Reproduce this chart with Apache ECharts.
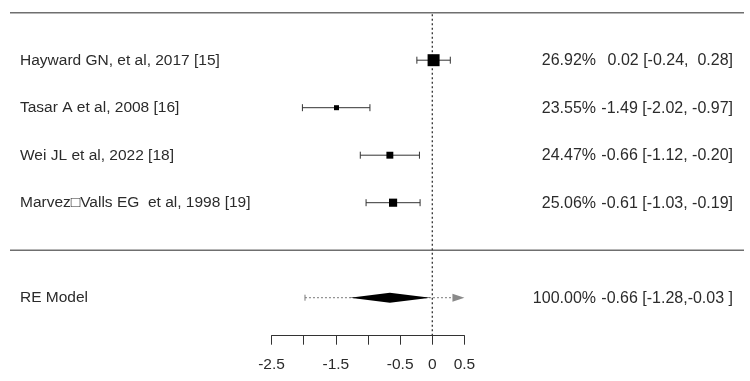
<!DOCTYPE html>
<html><head><meta charset="utf-8">
<script src="https://cdn.jsdelivr.net/npm/echarts@6/dist/echarts.min.js"></script>
<style>html,body{margin:0;padding:0;background:#fff}#c{width:750px;height:381px}</style>
</head><body><div id="c"></div>
<script>
// ---- data ----
const studyLabels = ['Hayward GN, et al, 2017 [15]', 'Tasar A et al, 2008 [16]', 'Wei JL et al, 2022 [18]', 'Marvez\u25A1Valls EG  et al, 1998 [19]'];
const estimates = [0.02, -1.49, -0.66, -0.61];
const ciLower = [-0.24, -2.02, -1.12, -1.03];
const ciUpper = [0.28, -0.97, -0.20, -0.19];
const weights = [26.92, 23.55, 24.47, 25.06];
const rowPositions = [4, 3, 2, 1];
const estimateTexts = ['0.02 [-0.24,  0.28]', '-1.49 [-2.02, -0.97]', '-0.66 [-1.12, -0.20]', '-0.61 [-1.03, -0.19]'];

const modelLabel = 'RE Model';
const modelRow = -1;
const modelEstimate = -0.66;
const modelLower = -1.28;
const modelUpper = -0.03;
const predLower = -1.98;
const predUpper = 0.66;
const modelWeight = 100.00;
const modelText = '-0.66 [-1.28,-0.03 ]';

const ruleRows = [5, 0];
const refValue = 0;
const tickValues = [-2.5, -2, -1.5, -1, -0.5, 0, 0.5];
const tickLabels = ['-2.5', '', '-1.5', '', '-0.5', '0', '0.5'];

// ---- layout / style ----
const FONT = 'Liberation Sans, Arial, sans-serif';
const TXT = '#2b2b2b';
const LABEL_X = 20, PCT_RIGHT = 596, EST_RIGHT = 733, RULE_L = 10, RULE_R = 744;
const X_MIN = -2.5, X_MAX = 0.5, Y_MIN = -1.8, Y_MAX = 5;
const wMin = Math.min(...weights), wMax = Math.max(...weights);

const chart = echarts.init(document.getElementById('c'), null, {renderer: 'canvas'});

const studyData = studyLabels.map((s, i) => [estimates[i], ciLower[i], ciUpper[i], rowPositions[i], weights[i], i]);

function txt(x, y, text, align, size) {
  return {type: 'text', x: x, y: y + 0.5, style: {text: text, fill: TXT, font: (size || 15.5) + 'px ' + FONT, textAlign: align, textVerticalAlign: 'middle'}};
}

const option = {
  animation: false,
  backgroundColor: '#fff',
  grid: {left: 271.55, width: 192.9, top: 12.7, height: 323},
  xAxis: {
    type: 'value', min: X_MIN, max: X_MAX, interval: 0.5,
    axisLine: {show: true, onZero: false, lineStyle: {color: '#333', width: 1}},
    axisTick: {show: true, length: 9, lineStyle: {color: '#333', width: 1}},
    axisLabel: {
      show: true, margin: 21, fontSize: 15.5, color: TXT, fontFamily: FONT,
      showMinLabel: true, showMaxLabel: true,
      formatter: v => { const i = tickValues.findIndex(t => Math.abs(t - v) < 1e-9); return i >= 0 ? tickLabels[i] : ''; }
    },
    splitLine: {show: false}
  },
  yAxis: {type: 'value', min: Y_MIN, max: Y_MAX, show: false},
  series: [
    { // horizontal rules
      type: 'custom', clip: false, silent: true,
      data: ruleRows.map(r => [0, r]),
      renderItem: (p, api) => {
        const y = api.coord([0, api.value(1)])[1];
        return {type: 'line', shape: {x1: RULE_L, y1: y, x2: RULE_R, y2: y}, style: {stroke: '#6f6f6f', lineWidth: 1.6}};
      }
    },
    { // reference line
      type: 'custom', clip: false, silent: true,
      data: [[refValue, Y_MIN, Y_MAX]],
      renderItem: (p, api) => {
        const a = api.coord([api.value(0), api.value(1)]);
        const b = api.coord([api.value(0), api.value(2)]);
        return {type: 'line', shape: {x1: a[0], y1: a[1], x2: b[0], y2: b[1]}, style: {stroke: '#333', lineWidth: 1.3, lineDash: [2, 2.5]}};
      }
    },
    { // study rows
      type: 'custom', clip: false, silent: true,
      data: studyData,
      renderItem: (p, api) => {
        const y = api.coord([0, api.value(3)])[1];
        const xe = api.coord([api.value(0), 0])[0];
        const xl = api.coord([api.value(1), 0])[0];
        const xh = api.coord([api.value(2), 0])[0];
        const size = 5 + 7 * (api.value(4) - wMin) / (wMax - wMin);
        const i = api.value(5);
        const ls = {stroke: '#333', lineWidth: 1};
        return {type: 'group', children: [
          {type: 'line', shape: {x1: xl, y1: y, x2: xh, y2: y}, style: ls},
          {type: 'line', shape: {x1: xl, y1: y - 3.5, x2: xl, y2: y + 3.5}, style: ls},
          {type: 'line', shape: {x1: xh, y1: y - 3.5, x2: xh, y2: y + 3.5}, style: ls},
          {type: 'rect', shape: {x: xe - size / 2, y: y - size / 2, width: size, height: size}, style: {fill: '#000'}},
          txt(LABEL_X, y, studyLabels[i], 'left', 15.5),
          txt(PCT_RIGHT, y, weights[i].toFixed(2) + '%', 'right', 16),
          txt(EST_RIGHT, y, estimateTexts[i], 'right', 16)
        ]};
      }
    },
    { // RE model
      type: 'custom', clip: false, silent: true,
      data: [[modelEstimate, modelLower, modelUpper, predLower, predUpper, modelRow]],
      renderItem: (p, api) => {
        const y = api.coord([0, api.value(5)])[1];
        const xe = api.coord([api.value(0), 0])[0];
        const xl = api.coord([api.value(1), 0])[0];
        const xh = api.coord([api.value(2), 0])[0];
        const pl = api.coord([Math.max(api.value(3), X_MIN), 0])[0];
        const over = api.value(4) > X_MAX;
        const ph = api.coord([Math.min(api.value(4), X_MAX), 0])[0];
        const h = 5;
        const gray = '#7a7a7a';
        const kids = [
          {type: 'line', shape: {x1: pl, y1: y, x2: over ? ph - 10 : ph, y2: y}, style: {stroke: gray, lineWidth: 1, lineDash: [2, 2]}},
          {type: 'line', shape: {x1: pl, y1: y - 3, x2: pl, y2: y + 3}, style: {stroke: gray, lineWidth: 1}},
          {type: 'polygon', shape: {points: [[xl, y], [xe, y - h], [xh, y], [xe, y + h]]}, style: {fill: '#000'}},
          txt(LABEL_X, y, modelLabel, 'left', 15.5),
          txt(PCT_RIGHT, y, modelWeight.toFixed(2) + '%', 'right', 16),
          txt(EST_RIGHT, y, modelText, 'right', 16)
        ];
        if (over) kids.push({type: 'polygon', shape: {points: [[ph - 12, y - 4], [ph, y], [ph - 12, y + 4]]}, style: {fill: '#8a8a8a'}});
        else kids.push({type: 'line', shape: {x1: ph, y1: y - 3, x2: ph, y2: y + 3}, style: {stroke: gray, lineWidth: 1}});
        return {type: 'group', children: kids};
      }
    }
  ]
};
chart.setOption(option);
</script>
</body></html>
